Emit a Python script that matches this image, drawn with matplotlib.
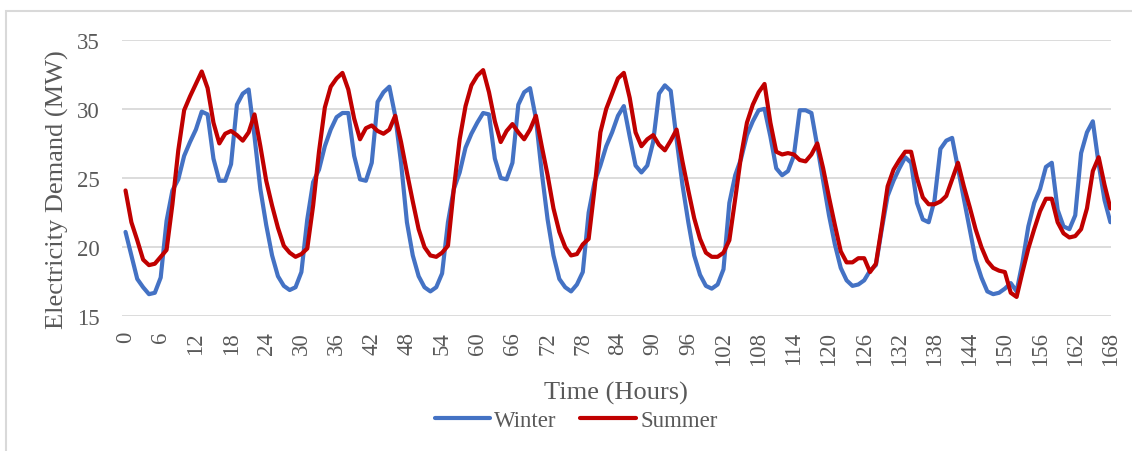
import matplotlib
matplotlib.use("Agg")
import matplotlib.pyplot as plt
from matplotlib.lines import Line2D
from matplotlib.patches import Rectangle
import numpy as np

hours = list(range(0, 169))
tick_hours = list(range(0, 169, 6))

winter = [
    21.1, 19.4, 17.7, 17.1, 16.6, 16.7, 17.8, 21.9, 24.1, 24.9,
    26.6, 27.6, 28.5, 29.8, 29.6, 26.4, 24.8, 24.8, 26.0, 30.3,
    31.1, 31.4, 28.0, 24.2, 21.6, 19.4, 17.9, 17.2, 16.9, 17.1,
    18.2, 22.0, 24.7, 25.6, 27.3, 28.5, 29.4, 29.7, 29.7, 26.6,
    24.9, 24.8, 26.1, 30.5, 31.2, 31.6, 29.5, 26.1, 21.8, 19.4,
    17.9, 17.1, 16.8, 17.1, 18.1, 21.8, 24.2, 25.4, 27.2, 28.2,
    29.0, 29.7, 29.6, 26.4, 25.0, 24.9, 26.1, 30.3, 31.2, 31.5,
    29.3, 25.4, 22.0, 19.4, 17.7, 17.1, 16.8, 17.3, 18.2, 22.5,
    24.7, 25.9, 27.3, 28.3, 29.5, 30.2, 28.0, 25.9, 25.4, 25.9,
    27.6, 31.1, 31.7, 31.3, 27.8, 24.5, 21.8, 19.4, 18.0, 17.2,
    17.0, 17.3, 18.4, 23.2, 25.2, 26.4, 28.1, 29.1, 29.9, 30.0,
    28.0, 25.7, 25.2, 25.5, 26.6, 29.9, 29.9, 29.7, 27.3, 24.8,
    22.3, 20.2, 18.5, 17.6, 17.2, 17.3, 17.6, 18.3, 18.7, 21.3,
    23.7, 24.8, 25.7, 26.5, 26.1, 23.2, 22.0, 21.8, 23.4, 27.1,
    27.7, 27.9, 25.7, 23.5, 21.3, 19.1, 17.8, 16.8, 16.6, 16.7,
    17.0, 17.4, 16.8, 18.9, 21.5, 23.2, 24.2, 25.8, 26.1, 22.7,
    21.5, 21.3, 22.3, 26.8, 28.3, 29.1, 26.0, 23.4, 21.8,
]

summer = [
    24.1, 21.8, 20.5, 19.1, 18.7, 18.8, 19.3, 19.8, 23.1, 27.0,
    29.9, 30.9, 31.8, 32.7, 31.5, 29.0, 27.5, 28.2, 28.4, 28.1,
    27.7, 28.3, 29.6, 27.3, 24.8, 23.0, 21.4, 20.1, 19.6, 19.3,
    19.5, 19.9, 23.0, 26.9, 30.1, 31.6, 32.2, 32.6, 31.4, 29.3,
    27.8, 28.6, 28.8, 28.4, 28.2, 28.5, 29.5, 27.6, 25.4, 23.3,
    21.3, 20.0, 19.4, 19.3, 19.6, 20.1, 24.2, 27.8, 30.2, 31.7,
    32.4, 32.8, 31.2, 29.1, 27.6, 28.4, 28.9, 28.3, 27.8, 28.5,
    29.5, 27.3, 25.2, 22.8, 21.1, 20.0, 19.4, 19.5, 20.2, 20.6,
    24.2, 28.3, 30.0, 31.1, 32.2, 32.6, 30.8, 28.3, 27.3, 27.8,
    28.1, 27.4, 27.0, 27.7, 28.5, 26.2, 24.1, 22.1, 20.6, 19.6,
    19.3, 19.3, 19.6, 20.5, 23.5, 26.6, 29.0, 30.3, 31.2, 31.8,
    29.0, 26.9, 26.7, 26.8, 26.7, 26.3, 26.2, 26.7, 27.5, 25.7,
    23.6, 21.6, 19.7, 18.9, 18.9, 19.2, 19.2, 18.2, 18.8, 21.5,
    24.4, 25.6, 26.3, 26.9, 26.9, 25.0, 23.6, 23.1, 23.1, 23.3,
    23.7, 24.9, 26.1, 24.4, 22.9, 21.3, 20.0, 19.0, 18.5, 18.3,
    18.2, 16.7, 16.4, 18.2, 19.9, 21.3, 22.6, 23.5, 23.5, 21.8,
    21.0, 20.7, 20.8, 21.3, 22.8, 25.5, 26.5, 24.5, 22.8,
]

y_ticks = [15, 20, 25, 30, 35]
series_names = ["Winter", "Summer"]
colors = ["#4472C4", "#C00000"]

assert len(winter) == len(hours) and len(summer) == len(hours)

plt.rcParams["font.family"] = ["Liberation Serif", "DejaVu Serif"]

W, H = 1132, 452
fig = plt.figure(figsize=(W / 100, H / 100), dpi=100)

left_px, right_px = 122.3, 1110.7
top_px, bot_px = 40.7, 317.3
ax = fig.add_axes([left_px / W, 1 - bot_px / H, (right_px - left_px) / W, (bot_px - top_px) / H])

for vals, name, c in zip([winter, summer], series_names, colors):
    ax.plot(hours, vals, color=c, lw=3.0, label=name, solid_joinstyle="round", solid_capstyle="round", zorder=3)

ax.set_xlim(-0.55, 168.05)
ax.set_ylim(15, 35)
ax.set_yticks(y_ticks)
ax.set_xticks(tick_hours)
ax.set_xticklabels([str(t) for t in tick_hours], rotation=90)
ax.grid(axis="y", color="#d9d9d9", lw=1.3, zorder=0)
ax.grid(axis="x", visible=False)
for s in ax.spines.values():
    s.set_visible(False)
ax.tick_params(axis="y", length=0, pad=16, labelsize=16.5, labelcolor="#595959")
ax.tick_params(axis="x", length=0, pad=10.5, labelsize=16.5, labelcolor="#595959")

fig.text(57 / W, 1 - 190 / H, "Electricity Demand (MW)", rotation=90, ha="center", va="center",
         fontsize=19, color="#595959")
fig.text(616 / W, 1 - 393 / H, "Time (Hours)", ha="center", va="center", fontsize=19, color="#595959")

handles = [Line2D([0], [0], color=c, lw=3.0, solid_capstyle="round") for c in colors]
leg = fig.legend(handles, series_names, loc="center", bbox_to_anchor=(576 / W, 1 - 421 / H), ncol=2,
                 frameon=False, fontsize=16.5, handlelength=2.43, handletextpad=0.17, columnspacing=1.04,
                 borderpad=0, borderaxespad=0)
for t in leg.get_texts():
    t.set_color("#595959")

fig.patches.append(Rectangle((6 / W, -0.02), 1.05, 1 - 12 / H + 0.02, transform=fig.transFigure,
                             fill=False, edgecolor="#d9d9d9", lw=1.5, clip_on=False))

fig.savefig("out.png", dpi=100, facecolor="white")
